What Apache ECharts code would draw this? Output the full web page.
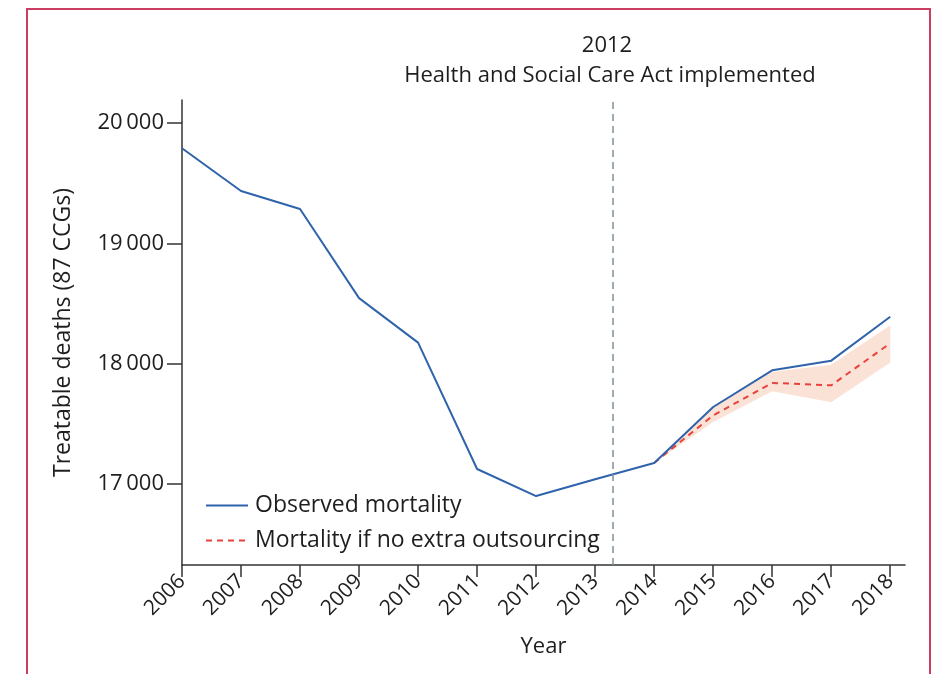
<!DOCTYPE html>
<html>
<head>
<meta charset="utf-8">
<script src="https://cdn.jsdelivr.net/npm/echarts@6/dist/echarts.min.js"></script>
<style>
  html, body { margin: 0; padding: 0; background: #fff; }
  #chart { width: 938px; height: 674px; }
</style>
</head>
<body>
<div id="chart"></div>
<script>
const years = [2006, 2007, 2008, 2009, 2010, 2011, 2012, 2013, 2014, 2015, 2016, 2017, 2018]
const observed = [19790, 19435, 19285, 18545, 18175, 17125, 16900, 17040, 17175, 17640, 17945, 18025, 18390]

// counterfactual (no extra outsourcing), 2014 onwards
const cfYears = [2014, 2015, 2016, 2017, 2018]
const cfMid = [17175, 17570, 17840, 17820, 18170]
const cfLow = [17175, 17515, 17770, 17680, 18010]
const cfHigh = [17175, 17640, 17930, 17990, 18320]

const yTicks = [17000, 18000, 19000, 20000]
const actYear = 2013.3

const font = '"Open Sans", sans-serif'
const textColor = '#1e1e1e'

const chart = echarts.init(document.getElementById('chart'))

const pair = (xs, ys) => xs.map((x, i) => [x, ys[i]])

// band drawn as one polygon through the axis scales
const bandData = cfYears.map((y, i) => [y, cfLow[i], cfHigh[i]])
const renderBand = (params, api) => {
  if (params.dataIndex !== 0) return
  const upper = bandData.map(d => api.coord([d[0], d[2]]))
  const lower = bandData.map(d => api.coord([d[0], d[1]])).reverse()
  return {
    type: 'polygon',
    shape: { points: upper.concat(lower) },
    style: { fill: '#fbe2d6' },
    silent: true
  }
}

const option = {
  animation: false,
  textStyle: { fontFamily: font },
  grid: { left: 182, right: 33, top: 100, bottom: 109 },
  graphic: [
    {
      type: 'rect',
      shape: { x: 27, y: 9, width: 903, height: 700 },
      style: { fill: 'none', stroke: '#cc3d63', lineWidth: 2 }
    },
    {
      type: 'text',
      x: 607, y: 35,
      style: { text: '2012', fontSize: 22, fontFamily: font, fill: textColor, textAlign: 'center' }
    },
    {
      type: 'text',
      x: 610, y: 65,
      style: { text: 'Health and Social Care Act implemented', fontSize: 22, fontFamily: font, fill: textColor, textAlign: 'center' }
    }
  ],
  legend: {
    orient: 'vertical',
    left: 200,
    top: 489,
    itemWidth: 42,
    itemHeight: 14,
    itemGap: 12,
    itemStyle: { opacity: 0 },
    data: ['Observed mortality', 'Mortality if no extra outsourcing'],
    textStyle: { fontSize: 23, color: textColor, fontFamily: font, padding: [0, 0, 0, 2] }
  },
  xAxis: {
    type: 'value',
    min: 2006,
    max: 2018.25,
    name: 'Year',
    nameLocation: 'middle',
    nameGap: 71,
    nameTextStyle: { fontSize: 22, color: textColor, fontFamily: font },
    splitLine: { show: false },
    axisLine: { lineStyle: { color: '#333', width: 1.5 } },
    axisTick: { length: 12, customValues: years, lineStyle: { color: '#333', width: 1.5 } },
    axisLabel: {
      customValues: years,
      rotate: 45,
      margin: 13,
      fontSize: 21,
      color: textColor,
      fontFamily: font,
      formatter: v => String(v)
    }
  },
  yAxis: {
    type: 'value',
    min: 16327,
    max: 20191,
    name: 'Treatable deaths (87 CCGs)',
    nameLocation: 'middle',
    nameGap: 107,
    nameTextStyle: { fontSize: 23, color: textColor, fontFamily: font },
    splitLine: { show: false },
    axisLine: { show: true, lineStyle: { color: '#333', width: 1.5 } },
    axisTick: { show: true, length: 15, customValues: yTicks, lineStyle: { color: '#333', width: 1.5 } },
    axisLabel: {
      customValues: yTicks,
      margin: 18,
      fontSize: 22,
      color: textColor,
      fontFamily: font,
      formatter: v => {
        const s = String(v)
        return s.slice(0, s.length - 3) + '\u2009' + s.slice(-3)
      }
    }
  },
  series: [
    {
      name: 'band',
      type: 'custom',
      renderItem: renderBand,
      data: bandData,
      encode: { x: 0, y: [1, 2] },
      silent: true,
      z: 1
    },
    {
      name: 'Mortality if no extra outsourcing',
      type: 'line',
      symbol: 'none',
      lineStyle: { color: '#e8423c', width: 2, type: [6, 5] },
      itemStyle: { color: '#e8423c' },
      data: pair(cfYears, cfMid),
      z: 3
    },
    {
      name: 'Observed mortality',
      type: 'line',
      symbol: 'none',
      lineStyle: { color: '#2f63ab', width: 2 },
      itemStyle: { color: '#2f63ab' },
      data: pair(years, observed),
      z: 4,
      markLine: {
        silent: true,
        symbol: 'none',
        label: { show: false },
        lineStyle: { color: '#7d919b', width: 1.5, type: [7, 5] },
        data: [{ xAxis: actYear }]
      }
    }
  ]
}

chart.setOption(option)
</script>
</body>
</html>
